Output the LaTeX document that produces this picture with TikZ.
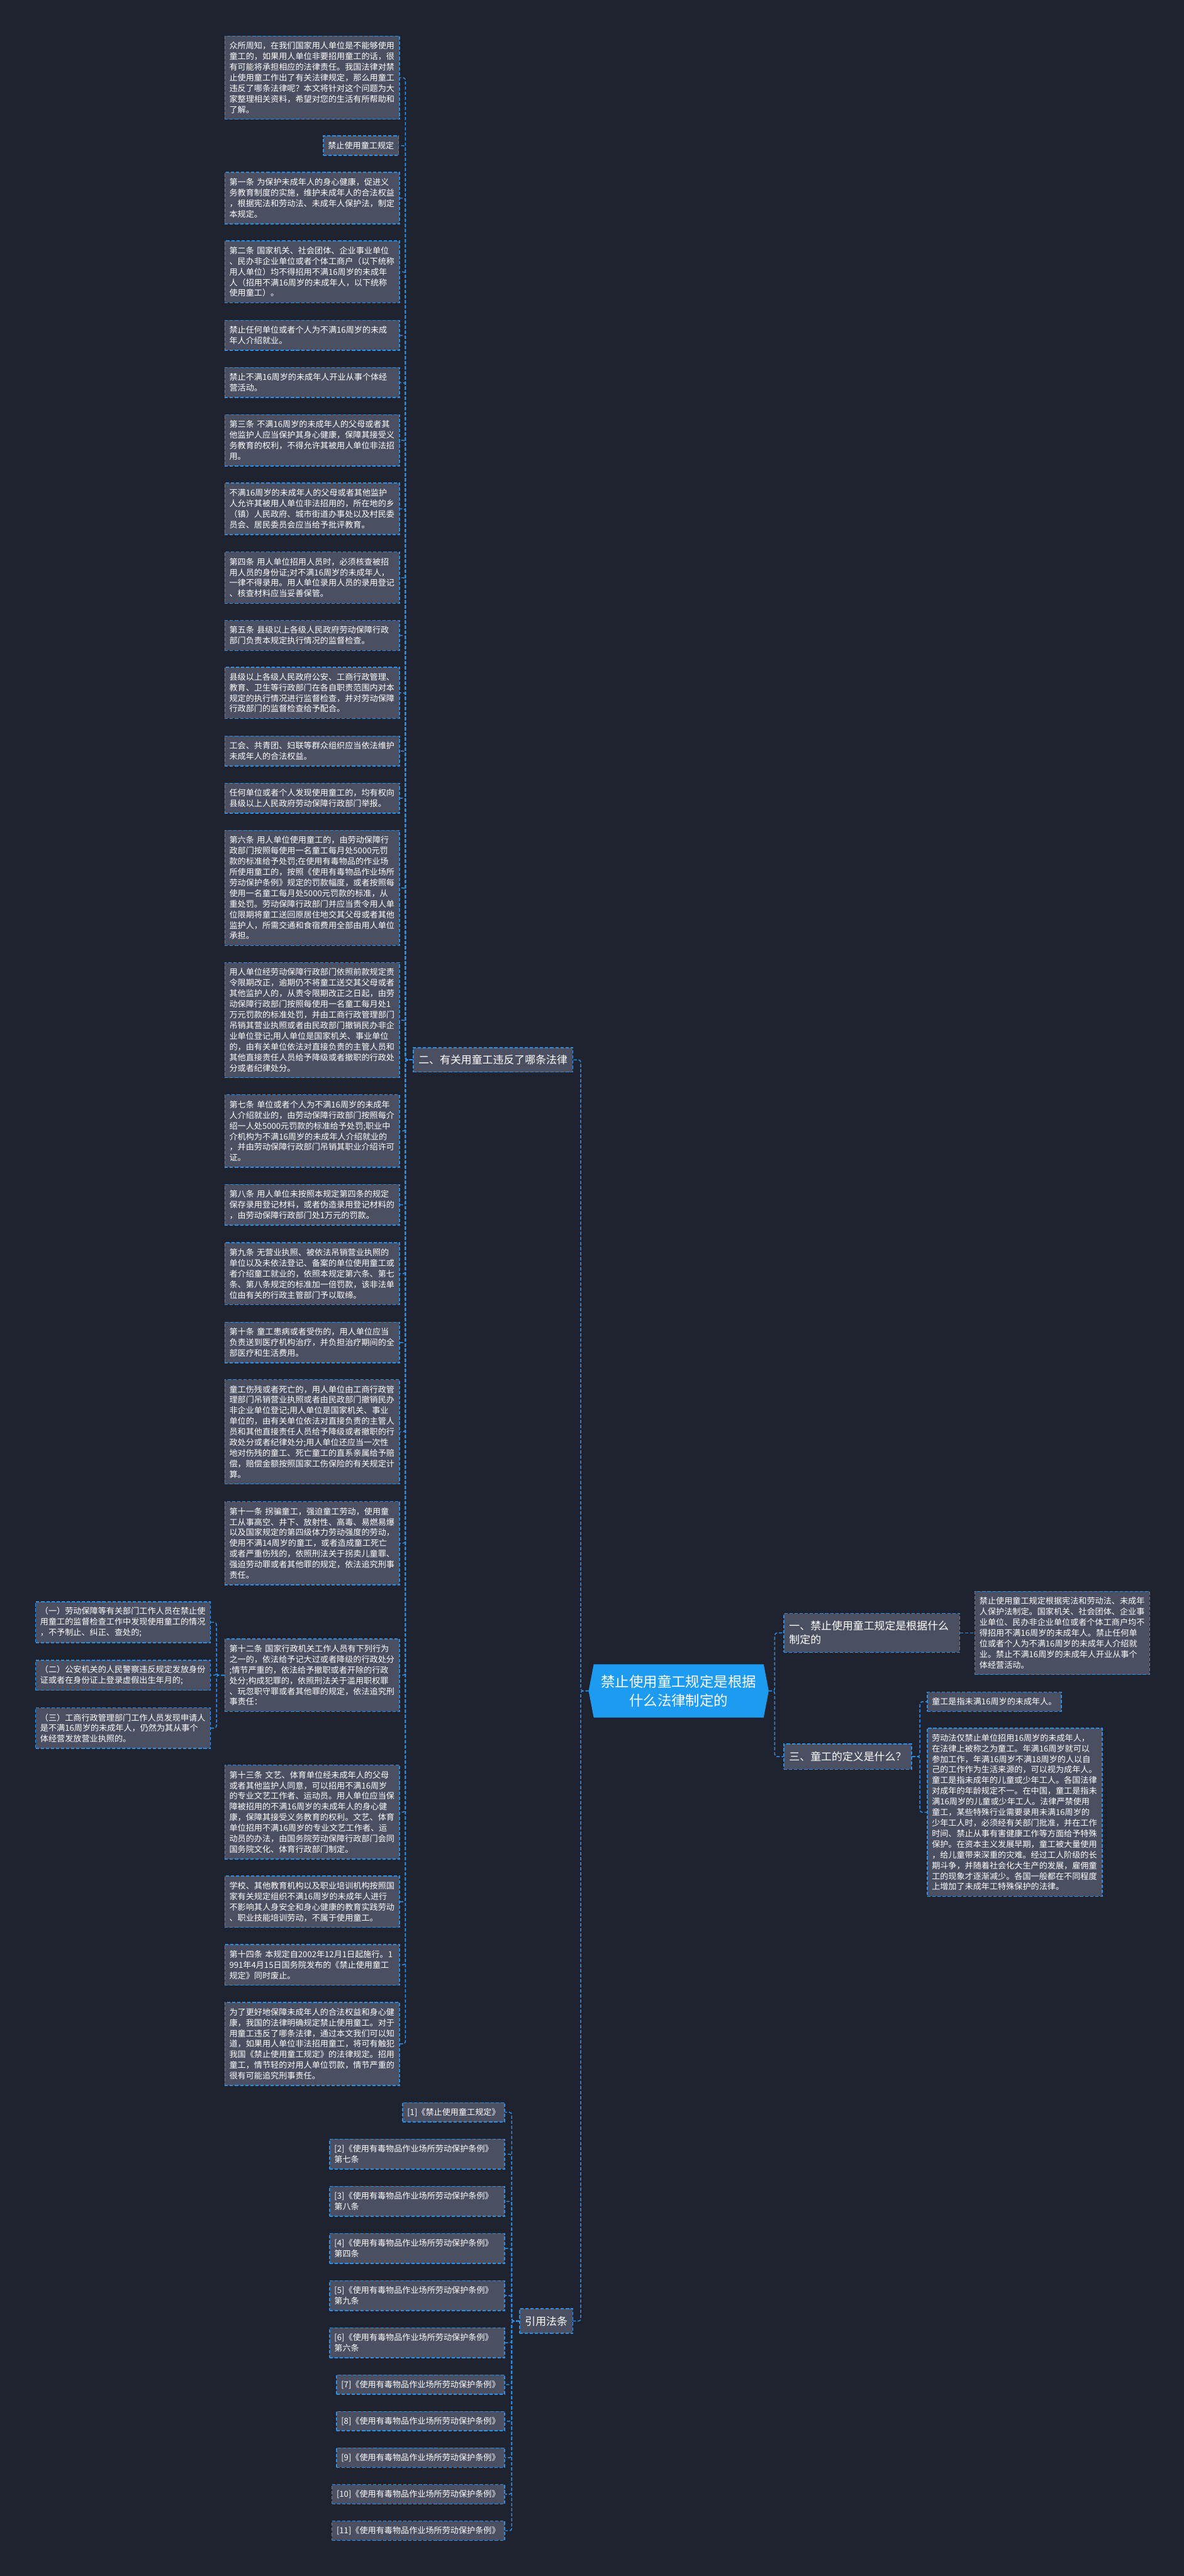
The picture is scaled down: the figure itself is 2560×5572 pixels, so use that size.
\documentclass[tikz,border=0pt]{standalone}
\usepackage{fontspec}
\setmainfont{Noto Sans CJK SC}
\usetikzlibrary{calc}
\definecolor{bgc}{HTML}{1F2330}
\definecolor{boxf}{HTML}{4A5062}
\definecolor{bord}{HTML}{2B8FE6}
\definecolor{rootf}{HTML}{1D9BF0}
\pgfdeclarelayer{bg}
\pgfsetlayers{bg,main}
\begin{document}
\begin{tikzpicture}[x=1pt,y=-1pt,
 bx/.style={draw=bord, fill=boxf, line width=2pt, dash pattern=on 7pt off 4pt, text=white, font=\fontsize{17.85}{23}\selectfont, inner xsep=10pt, inner ysep=0pt, align=left},
 tw/.style={text width=358pt},
 nl/.style={minimum height={23*#1+19}},
 lv/.style={bx, font=\fontsize{23}{30}\selectfont, inner xsep=11.5pt},
 cn/.style={draw=bord, line width=2pt, dash pattern=on 7pt off 4pt, rounded corners=5pt},
 nw/.style={anchor=north west},
 ne/.style={anchor=north east}]
\useasboundingbox (0,0) rectangle (2560,5572);
\begin{pgfonlayer}{bg}
\fill[bgc] (0,0) rectangle (2560,5572);
\end{pgfonlayer}

% root
\node[text=white, font=\fontsize{30.5}{41}\selectfont, align=center, minimum width=389pt, minimum height=115pt, inner sep=0pt] (root) at (1467.5,3657.5) {禁止使用童工规定是根据\\什么法律制定的};

% level 1
\node[lv, minimum height=53pt] (er) at (1066,2292.5) {二、有关用童工违反了哪条法律};
\node[lv, minimum height=53pt] (yy) at (1181,5020.5) {引用法条};
\node[lv, text width=357pt, minimum height=84pt, nw] (s1) at (1694,3489) {一、禁止使用童工规定是根据什么\\制定的};
\node[lv, minimum height=55pt, nw] (s3) at (1694,3771) {三、童工的定义是什么？};

% right children
\node[bx,tw,nl=7,nw] (s1c) at (2107,3441) {禁止使用童工规定根据宪法和劳动法、未成年\\人保护法制定。国家机关、社会团体、企业事\\业单位、民办非企业单位或者个体工商户均不\\得招用不满16周岁的未成年人。禁止任何单\\位或者个人为不满16周岁的未成年人介绍就\\业。禁止不满16周岁的未成年人开业从事个\\体经营活动。};
\node[bx,nl=1,nw] (s3a) at (2004,3659) {童工是指未满16周岁的未成年人。};
\node[bx,tw,nl=15,nw] (s3b) at (2004,3737) {劳动法仅禁止单位招用16周岁的未成年人，\\在法律上被称之为童工。年满16周岁就可以\\参加工作，年满16周岁不满18周岁的人以自\\己的工作作为生活来源的，可以视为成年人。\\童工是指未成年的儿童或少年工人。各国法律\\对成年的年龄规定不一。在中国，童工是指未\\满16周岁的儿童或少年工人。法律严禁使用\\童工，某些特殊行业需要录用未满16周岁的\\少年工人时，必须经有关部门批准，并在工作\\时间、禁止从事有害健康工作等方面给予特殊\\保护。在资本主义发展早期，童工被大量使用\\，给儿童带来深重的灾难。经过工人阶级的长\\期斗争，并随着社会化大生产的发展，雇佣童\\工的现象才逐渐减少。各国一般都在不同程度\\上增加了未成年工特殊保护的法律。};

% column
\node[bx,tw,nl=7,nw] (c1) at (485,77) {众所周知，在我们国家用人单位是不能够使用\\童工的，如果用人单位非要招用童工的话，很\\有可能将承担相应的法律责任。我国法律对禁\\止使用童工作出了有关法律规定，那么用童工\\违反了哪条法律呢？本文将针对这个问题为大\\家整理相关资料，希望对您的生活有所帮助和\\了解。};
\node[bx,nl=1,ne] (c2) at (863,293) {禁止使用童工规定};
\node[bx,tw,nl=4,nw] (c3) at (485,372) {第一条~为保护未成年人的身心健康，促进义\\务教育制度的实施，维护未成年人的合法权益\\，根据宪法和劳动法、未成年人保护法，制定\\本规定。};
\node[bx,tw,nl=5,nw] (c4) at (485,520) {第二条~国家机关、社会团体、企业事业单位\\、民办非企业单位或者个体工商户（以下统称\\用人单位）均不得招用不满16周岁的未成年\\人（招用不满16周岁的未成年人，以下统称\\使用童工）。};
\node[bx,tw,nl=2,nw] (c5) at (485,692) {禁止任何单位或者个人为不满16周岁的未成\\年人介绍就业。};
\node[bx,tw,nl=2,nw] (c6) at (485,794) {禁止不满16周岁的未成年人开业从事个体经\\营活动。};
\node[bx,tw,nl=4,nw] (c7) at (485,896) {第三条~不满16周岁的未成年人的父母或者其\\他监护人应当保护其身心健康，保障其接受义\\务教育的权利，不得允许其被用人单位非法招\\用。};
\node[bx,tw,nl=4,nw] (c8) at (485,1044) {不满16周岁的未成年人的父母或者其他监护\\人允许其被用人单位非法招用的，所在地的乡\\（镇）人民政府、城市街道办事处以及村民委\\员会、居民委员会应当给予批评教育。};
\node[bx,tw,nl=4,nw] (c9) at (485,1193) {第四条~用人单位招用人员时，必须核查被招\\用人员的身份证;对不满16周岁的未成年人，\\一律不得录用。用人单位录用人员的录用登记\\、核查材料应当妥善保管。};
\node[bx,tw,nl=2,nw] (c10) at (485,1341) {第五条~县级以上各级人民政府劳动保障行政\\部门负责本规定执行情况的监督检查。};
\node[bx,tw,nl=4,nw] (c11) at (485,1442) {县级以上各级人民政府公安、工商行政管理、\\教育、卫生等行政部门在各自职责范围内对本\\规定的执行情况进行监督检查，并对劳动保障\\行政部门的监督检查给予配合。};
\node[bx,tw,nl=2,nw] (c12) at (485,1591) {工会、共青团、妇联等群众组织应当依法维护\\未成年人的合法权益。};
\node[bx,tw,nl=2,nw] (c13) at (485,1693) {任何单位或者个人发现使用童工的，均有权向\\县级以上人民政府劳动保障行政部门举报。};
\node[bx,tw,nl=10,nw] (c14) at (485,1795) {第六条~用人单位使用童工的，由劳动保障行\\政部门按照每使用一名童工每月处5000元罚\\款的标准给予处罚;在使用有毒物品的作业场\\所使用童工的，按照《使用有毒物品作业场所\\劳动保护条例》规定的罚款幅度，或者按照每\\使用一名童工每月处5000元罚款的标准，从\\重处罚。劳动保障行政部门并应当责令用人单\\位限期将童工送回原居住地交其父母或者其他\\监护人，所需交通和食宿费用全部由用人单位\\承担。};
\node[bx,tw,nl=10,nw] (c15) at (485,2081) {用人单位经劳动保障行政部门依照前款规定责\\令限期改正，逾期仍不将童工送交其父母或者\\其他监护人的，从责令限期改正之日起，由劳\\动保障行政部门按照每使用一名童工每月处1\\万元罚款的标准处罚，并由工商行政管理部门\\吊销其营业执照或者由民政部门撤销民办非企\\业单位登记;用人单位是国家机关、事业单位\\的，由有关单位依法对直接负责的主管人员和\\其他直接责任人员给予降级或者撤职的行政处\\分或者纪律处分。};
\node[bx,tw,nl=6,nw] (c16) at (485,2367) {第七条~单位或者个人为不满16周岁的未成年\\人介绍就业的，由劳动保障行政部门按照每介\\绍一人处5000元罚款的标准给予处罚;职业中\\介机构为不满16周岁的未成年人介绍就业的\\，并由劳动保障行政部门吊销其职业介绍许可\\证。};
\node[bx,tw,nl=3,nw] (c17) at (485,2561) {第八条~用人单位未按照本规定第四条的规定\\保存录用登记材料，或者伪造录用登记材料的\\，由劳动保障行政部门处1万元的罚款。};
\node[bx,tw,nl=5,nw] (c18) at (485,2687) {第九条~无营业执照、被依法吊销营业执照的\\单位以及未依法登记、备案的单位使用童工或\\者介绍童工就业的，依照本规定第六条、第七\\条、第八条规定的标准加一倍罚款，该非法单\\位由有关的行政主管部门予以取缔。};
\node[bx,tw,nl=3,nw] (c19) at (485,2859) {第十条~童工患病或者受伤的，用人单位应当\\负责送到医疗机构治疗，并负担治疗期间的全\\部医疗和生活费用。};
\node[bx,tw,nl=9,nw] (c20) at (485,2983) {童工伤残或者死亡的，用人单位由工商行政管\\理部门吊销营业执照或者由民政部门撤销民办\\非企业单位登记;用人单位是国家机关、事业\\单位的，由有关单位依法对直接负责的主管人\\员和其他直接责任人员给予降级或者撤职的行\\政处分或者纪律处分;用人单位还应当一次性\\地对伤残的童工、死亡童工的直系亲属给予赔\\偿，赔偿金额按照国家工伤保险的有关规定计\\算。};
\node[bx,tw,nl=7,nw] (c21) at (485,3247) {第十一条~拐骗童工，强迫童工劳动，使用童\\工从事高空、井下、放射性、高毒、易燃易爆\\以及国家规定的第四级体力劳动强度的劳动，\\使用不满14周岁的童工，或者造成童工死亡\\或者严重伤残的，依照刑法关于拐卖儿童罪、\\强迫劳动罪或者其他罪的规定，依法追究刑事\\责任。};
\node[bx,tw,nl=6,nw] (c22) at (485,3544) {第十二条~国家行政机关工作人员有下列行为\\之一的，依法给予记大过或者降级的行政处分\\;情节严重的，依法给予撤职或者开除的行政\\处分;构成犯罪的，依照刑法关于滥用职权罪\\、玩忽职守罪或者其他罪的规定，依法追究刑\\事责任：};
\node[bx,tw,nl=8,nw] (c23) at (485,3817) {第十三条~文艺、体育单位经未成年人的父母\\或者其他监护人同意，可以招用不满16周岁\\的专业文艺工作者、运动员。用人单位应当保\\障被招用的不满16周岁的未成年人的身心健\\康，保障其接受义务教育的权利。文艺、体育\\单位招用不满16周岁的专业文艺工作者、运\\动员的办法，由国务院劳动保障行政部门会同\\国务院文化、体育行政部门制定。};
\node[bx,tw,nl=4,nw] (c24) at (485,4057) {学校、其他教育机构以及职业培训机构按照国\\家有关规定组织不满16周岁的未成年人进行\\不影响其人身安全和身心健康的教育实践劳动\\、职业技能培训劳动，不属于使用童工。};
\node[bx,tw,nl=3,nw] (c25) at (485,4205) {第十四条~本规定自2002年12月1日起施行。1\\991年4月15日国务院发布的《禁止使用童工\\规定》同时废止。};
\node[bx,tw,nl=7,nw] (c26) at (485,4330) {为了更好地保障未成年人的合法权益和身心健\\康，我国的法律明确规定禁止使用童工。对于\\用童工违反了哪条法律，通过本文我们可以知\\道，如果用人单位非法招用童工，将可有触犯\\我国《禁止使用童工规定》的法律规定。招用\\童工，情节轻的对用人单位罚款，情节严重的\\很有可能追究刑事责任。};

% left children of 12
\node[bx,tw,nl=3,nw] (k1) at (76,3464) {（一）劳动保障等有关部门工作人员在禁止使\\用童工的监督检查工作中发现使用童工的情况\\，不予制止、纠正、查处的;};
\node[bx,tw,nl=2,nw] (k2) at (76,3590) {（二）公安机关的人民警察违反规定发放身份\\证或者在身份证上登录虚假出生年月的;};
\node[bx,tw,nl=3,nw] (k3) at (76,3693) {（三）工商行政管理部门工作人员发现申请人\\是不满16周岁的未成年人，仍然为其从事个\\体经营发放营业执照的。};

% references
\node[bx,nl=1,ne] (r1) at (1092,4547) {[1]《禁止使用童工规定》};
\node[bx,tw,nl=2,ne] (r2) at (1092,4626) {[2]《使用有毒物品作业场所劳动保护条例》\\第七条};
\node[bx,tw,nl=2,ne] (r3) at (1092,4728) {[3]《使用有毒物品作业场所劳动保护条例》\\第八条};
\node[bx,tw,nl=2,ne] (r4) at (1092,4830) {[4]《使用有毒物品作业场所劳动保护条例》\\第四条};
\node[bx,tw,nl=2,ne] (r5) at (1092,4932) {[5]《使用有毒物品作业场所劳动保护条例》\\第九条};
\node[bx,tw,nl=2,ne] (r6) at (1092,5034) {[6]《使用有毒物品作业场所劳动保护条例》\\第六条};
\node[bx,nl=1,ne] (r7) at (1092,5136) {[7]《使用有毒物品作业场所劳动保护条例》};
\node[bx,nl=1,ne] (r8) at (1092,5215) {[8]《使用有毒物品作业场所劳动保护条例》};
\node[bx,nl=1,ne] (r9) at (1092,5294) {[9]《使用有毒物品作业场所劳动保护条例》};
\node[bx,nl=1,ne] (r10) at (1092,5373) {[10]《使用有毒物品作业场所劳动保护条例》};
\node[bx,nl=1,ne] (r11) at (1092,5452) {[11]《使用有毒物品作业场所劳动保护条例》};

\begin{pgfonlayer}{bg}
\fill[rootf] (root.west) -- ([xshift=11pt]root.north west) -- ([xshift=-11pt]root.north east) -- (root.east) -- ([xshift=-11pt]root.south east) -- ([xshift=11pt]root.south west) -- cycle;
\draw[cn] (root.west) -- ++(-17,0) |- (er.east);
\draw[cn] (root.west) -- ++(-17,0) |- (yy.east);
\draw[cn] (root.east) -- ++(13,0) |- (s1.west);
\draw[cn] (root.east) -- ++(13,0) |- (s3.west);
\draw[cn] (s1.east) -- (s1c.west);
\draw[cn] (s3.east) -- ++(17,0) |- (s3a.west);
\draw[cn] (s3.east) -- ++(17,0) |- (s3b.west);
\foreach \n in {c1,c2,c3,c4,c5,c6,c7,c8,c9,c10,c11,c12,c13,c14,c15,c16,c17,c18,c19,c20,c21,c22,c23,c24,c25,c26}
  \draw[cn] (er.west) -- ++(-16,0) |- (\n.east);
\foreach \n in {k1,k2,k3}
  \draw[cn] (c22.west) -- ++(-17,0) |- (\n.east);
\foreach \n in {r1,r2,r3,r4,r5,r6,r7,r8,r9,r10,r11}
  \draw[cn] (yy.west) -- ++(-16,0) |- (\n.east);
\end{pgfonlayer}
\end{tikzpicture}
\end{document}
